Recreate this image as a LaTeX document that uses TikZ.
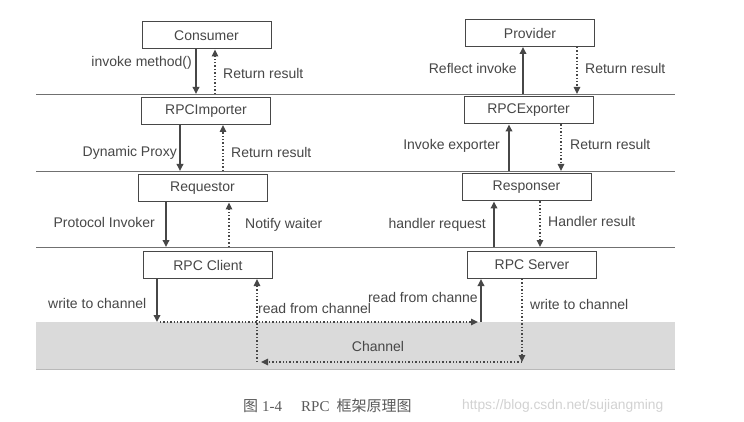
\documentclass[tikz,border=0pt]{standalone}
\usepackage{fontspec}
\setmainfont{Liberation Sans}
\newfontfamily\cjk{Noto Sans CJK SC}
\newfontfamily\capserif{Liberation Serif}
\usetikzlibrary{arrows.meta,calc}
\definecolor{ink}{HTML}{474747}
\definecolor{linec}{HTML}{707070}
\definecolor{chan}{HTML}{DADADA}
\definecolor{capc}{HTML}{5A5A5A}
\definecolor{wmark}{HTML}{D2D2D2}
\begin{document}
\begin{tikzpicture}[x=1pt,y=-1pt,
  box/.style={draw=ink, line width=1pt, minimum width=129pt, minimum height=27pt, inner sep=0pt, text=ink, font=\fontsize{14}{16}\selectfont},
  lbl/.style={text=ink, font=\fontsize{14}{16}\selectfont, inner sep=0pt},
  sarr/.style={draw=ink, line width=1.8pt, -{Triangle[length=7pt,width=6.5pt]}},
  darr/.style={draw=ink, line width=1.4pt, dotted, -{Triangle[length=7pt,width=6.5pt]}},
  sline/.style={draw=ink, line width=1.8pt},
  dline/.style={draw=ink, line width=1.4pt, dotted},
  sep/.style={draw=linec, line width=0.9pt}]
\useasboundingbox (0,0) rectangle (744,422);
\fill[white] (0,0) rectangle (744,422);

% channel band
\fill[chan] (36,322) rectangle (675,369);
\draw[gray!55, line width=0.6pt] (36,369) -- (675,369);
\node[lbl] (chlabel) at (378,346) {Channel};

% separator lines
\coordinate (l1a) at (36,94);  \coordinate (l1b) at (675,94);
\coordinate (l2a) at (36,171); \coordinate (l2b) at (675,171);
\coordinate (l3a) at (36,247); \coordinate (l3b) at (675,247);
\draw[sep] (l1a) -- (l1b);
\draw[sep] (l2a) -- (l2b);
\draw[sep] (l3a) -- (l3b);
\coordinate (ct) at (0,322);
\coordinate (cb) at (0,362);

% boxes
\node[box] (consumer)  at (206.5,35.5) {Consumer};
\node[box] (importer)  at (206,111)    {RPCImporter};
\node[box] (requestor) at (202.5,188.5){Requestor};
\node[box] (client)    at (208,265)    {RPC Client};
\node[box] (provider)  at (530,33)     {Provider};
\node[box] (exporter)  at (528.5,110.5){RPCExporter};
\node[box] (responser) at (526.5,187.5){Responser};
\node[box] (server)    at (532,265)    {RPC Server};

% left column arrows
\draw[sarr] ([xshift=-10.5pt]consumer.south) -- ([xshift=-10.5pt]consumer.south |- l1a);
\draw[darr] ([xshift=8.5pt]consumer.south |- l1a) -- ([xshift=8.5pt]consumer.south);
\draw[sarr] ([xshift=-26pt]importer.south) -- ([xshift=-26pt]importer.south |- l2a);
\draw[darr] ([xshift=17pt]importer.south |- l2a) -- ([xshift=17pt]importer.south);
\draw[sarr] ([xshift=-36.5pt]requestor.south) -- ([xshift=-36.5pt]requestor.south |- l3a);
\draw[darr] ([xshift=26.5pt]requestor.south |- l3a) -- ([xshift=26.5pt]requestor.south);

% right column arrows
\draw[sarr] ([xshift=-7pt]provider.south |- l1a) -- ([xshift=-7pt]provider.south);
\draw[darr] ([xshift=47pt]provider.south) -- ([xshift=47pt]provider.south |- l1a);
\draw[sarr] ([xshift=-19.5pt]exporter.south |- l2a) -- ([xshift=-19.5pt]exporter.south);
\draw[darr] ([xshift=32.5pt]exporter.south) -- ([xshift=32.5pt]exporter.south |- l2a);
\draw[sarr] ([xshift=-32.5pt]responser.south |- l3a) -- ([xshift=-32.5pt]responser.south);
\draw[darr] ([xshift=13.5pt]responser.south) -- ([xshift=13.5pt]responser.south |- l3a);

% channel traffic
\coordinate (cw) at ([xshift=-51pt]client.south |- ct);
\coordinate (sr) at ([xshift=-51pt]server.south |- ct);
\coordinate (sw) at ([xshift=-10pt]server.south |- cb);
\coordinate (cr) at ([xshift=49pt]client.south |- cb);
\draw[sarr] ([xshift=-51pt]client.south) -- (cw);
\draw[darr] ([xshift=3pt]cw) -- ([xshift=-3pt]sr);
\draw[sarr] (sr) -- ([xshift=-51pt]server.south);
\draw[darr] ([xshift=-10pt]server.south) -- (sw);
\draw[darr] (sw) -- ([xshift=4pt]cr);
\draw[darr] (cr) -- ([xshift=49pt]client.south);

% labels
\node[lbl, anchor=east] (t1) at (192,63) {invoke method()};
\node[lbl, anchor=west] (t2) at (223,73) {Return result};
\node[lbl, anchor=east] (t3) at (177,153) {Dynamic Proxy};
\node[lbl, anchor=west] (t4) at (231,152) {Return result};
\node[lbl, anchor=east] (t5) at (155,222) {Protocol Invoker};
\node[lbl, anchor=west] (t6) at (245,225) {Notify waiter};
\node[lbl, anchor=west] (t7) at (48,303) {write to channel};
\node[lbl, anchor=west] (t8) at (258,308) {read from channel};
\node[lbl, anchor=east] (t9) at (478,297) {read from channe};
\node[lbl, anchor=east] (t10) at (517,68) {Reflect invoke};
\node[lbl, anchor=west] (t11) at (585,68) {Return result};
\node[lbl, anchor=east] (t12) at (500,146) {Invoke exporter};
\node[lbl, anchor=west] (t13) at (570,144) {Return result};
\node[lbl, anchor=east] (t14) at (486,225) {handler request};
\node[lbl, anchor=west] (t15) at (548,221) {Handler result};
\node[lbl, anchor=west] (t16) at (530,304) {write to channel};

% caption and watermark
\node[anchor=west, inner sep=0pt, text=capc, font=\fontsize{15}{17}\selectfont] (caption) at (243,406)
  {{\cjk 图}\hspace{4pt}{\capserif 1-4}\hspace{19pt}{\capserif RPC}\hspace{7pt}{\cjk 框架原理图}};
\node[anchor=west, inner sep=0pt, text=wmark, font=\fontsize{13.8}{16}\selectfont] (wm) at (462,406)
  {https://blog.csdn.net/sujiangming};
\end{tikzpicture}
\end{document}
